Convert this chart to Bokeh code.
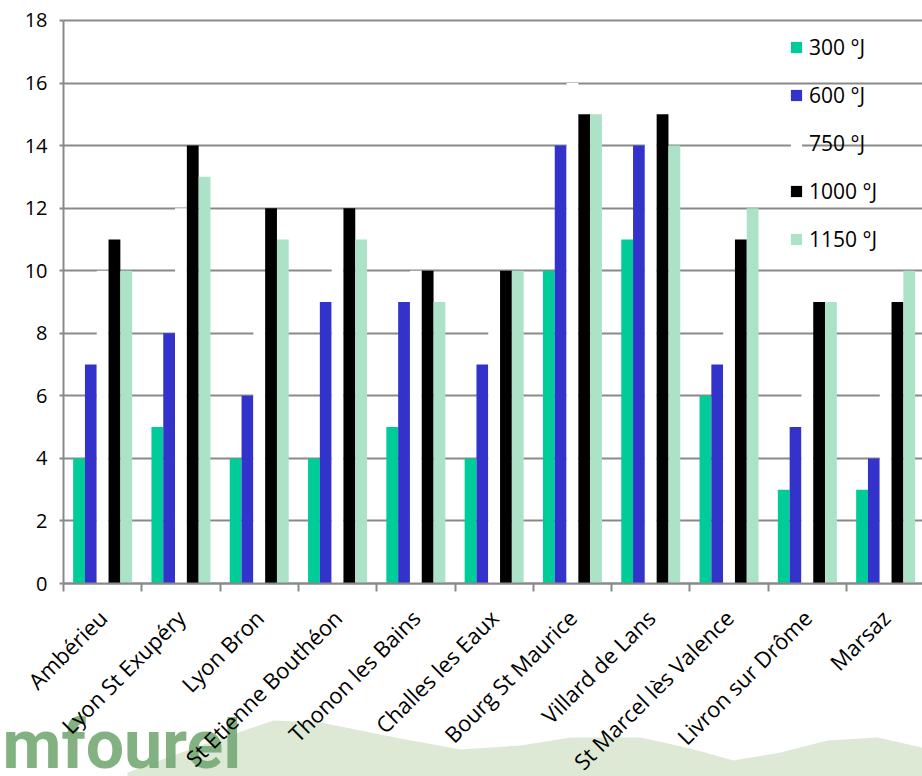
import numpy as np
from math import pi
from bokeh.plotting import figure
from bokeh.models import (ColumnDataSource, Range1d, FixedTicker, Legend, LegendItem,
                          Label, PolyAnnotation, LinearAxis)
from bokeh.transform import dodge
from bokeh.embed import file_html
from bokeh.resources import INLINE

# ---- data ----
categories = ["Ambérieu", "Lyon St Exupéry", "Lyon Bron", "St Etienne Bouthéon",
              "Thonon les Bains", "Challes les Eaux", "Bourg St Maurice",
              "Villard de Lans", "St Marcel lès Valence", "Livron sur Drôme", "Marsaz"]
series_names = ["300 °J", "600 °J", "750 °J", "1000 °J", "1150 °J"]
s300 = [4, 5, 4, 4, 5, 4, 10, 11, 6, 3, 3]
s600 = [7, 8, 6, 9, 9, 7, 14, 14, 7, 5, 4]
s750 = [10, 12, 9, 11, 10, 9, 16, 15, 9, 7, 7]
s1000 = [11, 14, 12, 12, 10, 10, 15, 15, 11, 9, 9]
s1150 = [10, 13, 11, 11, 9, 10, 15, 14, 12, 9, 10]
y_ticks = list(range(0, 19, 2))

# ---- style / geometry ----
FONT = "Open Sans"
colors = ["#00CC99", "#3333CC", "#FFFFFF", "#000000", "#ACE3C8"]
GRID = "#898989"
BAR_W = 0.1507
W, H = 922, 776
PX_X = 78.3            # pixels per category
PX_Y = 31.28           # pixels per unit
X0_PX, Y0_PX = 63, 583 # canvas position of the plot origin

n = len(categories)
idx = list(range(n))
x_lo = -0.5 - X0_PX / PX_X
x_hi = -0.5 + (W - X0_PX) / PX_X
y_lo = -(H - Y0_PX) / PX_Y
y_hi = Y0_PX / PX_Y

src = ColumnDataSource(dict(x=idx, s300=s300, s600=s600, s750=s750,
                            s1000=s1000, s1150=s1150))

p = figure(width=W, height=H, output_backend="svg", toolbar_location=None,
           x_range=Range1d(x_lo, x_hi), y_range=Range1d(y_lo, y_hi),
           min_border=0, outline_line_color=None)
p.xaxis.visible = False
p.yaxis.visible = False
p.xgrid.visible = False

# decorative watermark (background, below the plot area) in canvas pixels
hill_x = [127, 200, 273, 320, 400, 460, 520, 570, 640, 690, 733, 780, 827, 877, 922, 922, 127]
hill_y = [772, 745, 720, 722, 738, 749, 745, 737, 737, 748, 760, 752, 740, 737, 747, 776, 776]
hill = PolyAnnotation(xs=hill_x, ys=[H - v for v in hill_y],
                      xs_units="screen", ys_units="screen", fill_color="#dde9d4",
                      fill_alpha=1.0, line_color=None, level="underlay")
p.add_layout(hill)
wm = Label(x=2, y=H - 744, x_units="screen", y_units="screen", text="mfourel",
           text_font="Roboto", text_font_style="bold",
           text_font_size="68px", text_color="#74a974", text_alpha=0.9,
           text_baseline="alphabetic", level="underlay")
p.add_layout(wm)

# gridlines
p.ygrid.ticker = FixedTicker(ticks=y_ticks)
p.ygrid.grid_line_color = GRID
p.ygrid.grid_line_width = 2
p.ygrid.cross_bounds = (-0.5, x_hi)

keys = ["s300", "s600", "s750", "s1000", "s1150"]
renderers = []
for k, (key, col) in enumerate(zip(keys, colors)):
    r = p.vbar(x=dodge("x", (k - 2) * BAR_W, range=p.x_range), top=key, width=BAR_W,
               source=src, fill_color=col, line_color=None)
    renderers.append(r)

# axes (fixed inside the frame)
yax = LinearAxis(ticker=FixedTicker(ticks=y_ticks, minor_ticks=[]),
                 fixed_location=-0.5, bounds=(0, 18),
                 axis_line_color=GRID, axis_line_width=2,
                 major_tick_line_color=GRID, major_tick_line_width=2,
                 major_tick_out=4, major_tick_in=0, minor_tick_out=0, minor_tick_in=0,
                 major_label_text_font=FONT, major_label_text_font_size="20px",
                 major_label_text_color="#000000", major_label_standoff=12)
p.add_layout(yax, "left")
xax = LinearAxis(ticker=FixedTicker(ticks=idx, minor_ticks=[i - 0.5 for i in range(n + 1)]),
                 fixed_location=0, bounds=(-0.5, x_hi),
                 major_label_overrides={i: c for i, c in enumerate(categories)},
                 major_label_orientation=pi / 4,
                 axis_line_color=GRID, axis_line_width=2,
                 major_tick_out=0, major_tick_in=0,
                 minor_tick_out=8, minor_tick_in=0,
                 minor_tick_line_color=GRID, minor_tick_line_width=2,
                 major_label_text_font=FONT, major_label_text_font_size="22px",
                 major_label_text_color="#000000", major_label_standoff=22)
p.add_layout(xax, "below")

legend = Legend(items=[LegendItem(label=s, renderers=[r]) for s, r in zip(series_names, renderers)],
                location=(789, H - 253), background_fill_alpha=0, border_line_alpha=0,
                padding=0, margin=0, glyph_width=14, glyph_height=14,
                label_standoff=6, spacing=20, label_height=24,
                label_text_font=FONT, label_text_font_size="21px", label_text_color="#000000")
p.add_layout(legend)

open("out.html", "w").write(file_html(p, INLINE))
